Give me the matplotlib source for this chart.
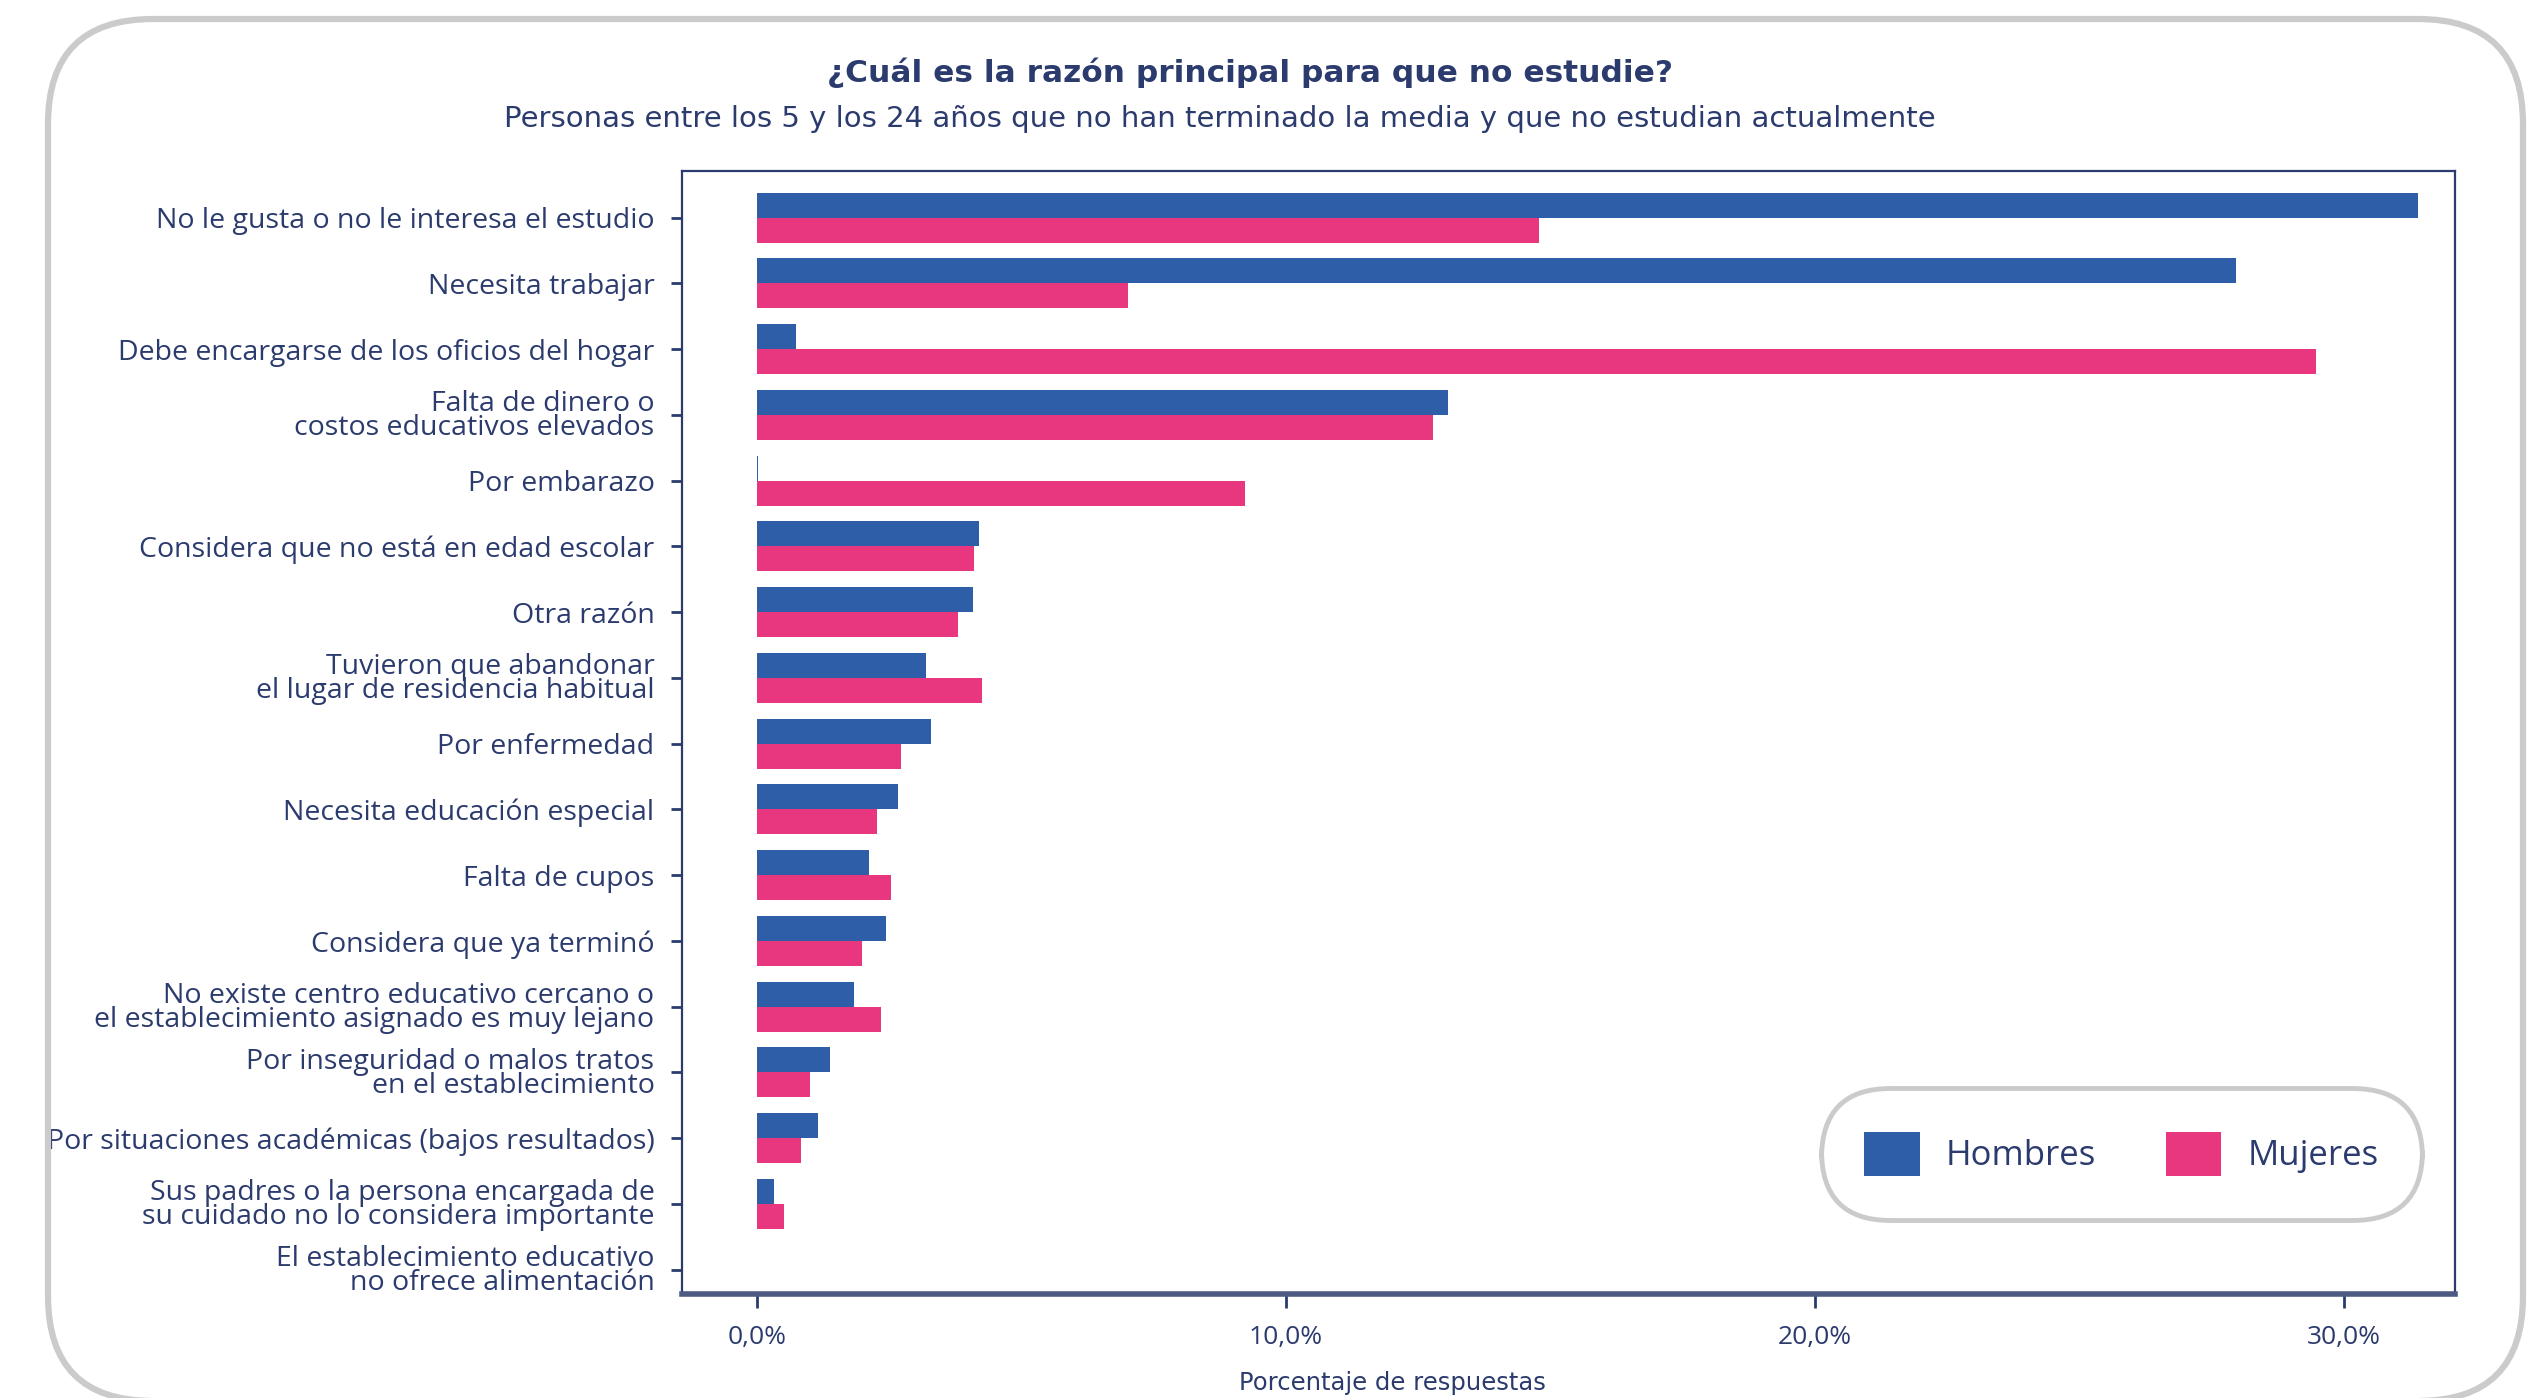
import matplotlib
matplotlib.use('Agg')
import matplotlib.pyplot as plt
import numpy as np
from matplotlib.patches import FancyBboxPatch
from matplotlib.ticker import FuncFormatter

# data (percent of answers)
razones = [
    'No le gusta o no le interesa el estudio',
    'Necesita trabajar',
    'Debe encargarse de los oficios del hogar',
    'Falta de dinero o\ncostos educativos elevados',
    'Por embarazo',
    'Considera que no está en edad escolar',
    'Otra razón',
    'Tuvieron que abandonar\nel lugar de residencia habitual',
    'Por enfermedad',
    'Necesita educación especial',
    'Falta de cupos',
    'Considera que ya terminó',
    'No existe centro educativo cercano o\nel establecimiento asignado es muy lejano',
    'Por inseguridad o malos tratos\nen el establecimiento',
    'Por situaciones académicas (bajos resultados)',
    'Sus padres o la persona encargada de\nsu cuidado no lo considera importante',
    'El establecimiento educativo\nno ofrece alimentación',
]
hombres = [31.4, 27.96, 0.74, 13.06, 0.03, 4.2, 4.08, 3.2, 3.3, 2.67, 2.12, 2.44, 1.83, 1.38, 1.15, 0.33, 0.0]
mujeres = [14.78, 7.01, 29.47, 12.78, 9.22, 4.10, 3.80, 4.25, 2.73, 2.28, 2.54, 1.98, 2.34, 1.0, 0.83, 0.52, 0.0]
ticks_x = [0, 10, 20, 30]

azul = '#2f5ea9'
rosa = '#e8367f'
navy = '#2c3b6e'
gris = '#cbcbcb'

plt.rcParams['font.family'] = ['Open Sans', 'DejaVu Sans']

fig = plt.figure(figsize=(25.36, 13.98), dpi=100)

# outer rounded frame (no fill so the axes stay visible)
marco = FancyBboxPatch((0.48, -0.03), 24.75, 13.82,
                       boxstyle='round,pad=0,rounding_size=1.05',
                       transform=fig.dpi_scale_trans, facecolor='none',
                       edgecolor=gris, linewidth=4.5, zorder=0)
fig.patches.append(marco)

ax = fig.add_axes([0.269, 0.0744, 0.699, 0.8033])
ax.set_facecolor('white')

y = np.arange(len(razones))
h = 0.38
ax.barh(y - h / 2, hombres, height=h, color=azul, label='Hombres', zorder=3)
ax.barh(y + h / 2, mujeres, height=h, color=rosa, label='Mujeres', zorder=3)

ax.set_yticks(y)
ax.set_yticklabels(razones, fontsize=20.5, color=navy, linespacing=0.8)
ax.set_ylim(len(razones) - 1 + 0.37, -0.71)
ax.set_xlim(-1.41, 32.1)
ax.set_xticks(ticks_x)
ax.xaxis.set_major_formatter(FuncFormatter(lambda v, p: f'{v:.1f}%'.replace('.', ',')))
ax.tick_params(axis='x', labelsize=19, colors=navy, length=10, width=2, pad=12)
ax.tick_params(axis='y', colors=navy, length=8, width=2, pad=12)

for s in ['left', 'top', 'right']:
    ax.spines[s].set_color(navy)
    ax.spines[s].set_linewidth(1.6)
ax.spines['bottom'].set_color('#4d5b82')
ax.spines['bottom'].set_linewidth(4)

# titles
fig.text(0.493, 0.948, '¿Cuál es la razón principal para que no estudie?',
         ha='center', va='center', fontsize=22.5, fontweight='bold', color=navy,
         family='DejaVu Sans')
fig.text(0.481, 0.915, 'Personas entre los 5 y los 24 años que no han terminado la media y que no estudian actualmente',
         ha='center', va='center', fontsize=21, color=navy, family='DejaVu Sans')
fig.text(0.549, 0.011, 'Porcentaje de respuestas', ha='center', va='center',
         fontsize=17.5, color=navy, family='DejaVu Sans')

leg = ax.legend(loc='center', bbox_to_anchor=(0.8365, 0.1745),
                bbox_transform=fig.transFigure, ncol=2, fontsize=25,
                handlelength=1.6, handleheight=1.6, handletextpad=0.75,
                columnspacing=2.0, borderpad=0.95, frameon=True, fancybox=True,
                labelcolor=navy)
frame = leg.get_frame()
frame.set_boxstyle('round', pad=0.3, rounding_size=2.0)
frame.set_edgecolor(gris)
frame.set_linewidth(3.5)
frame.set_facecolor('white')
frame.set_alpha(1)

fig.savefig('out.png', dpi=100)
